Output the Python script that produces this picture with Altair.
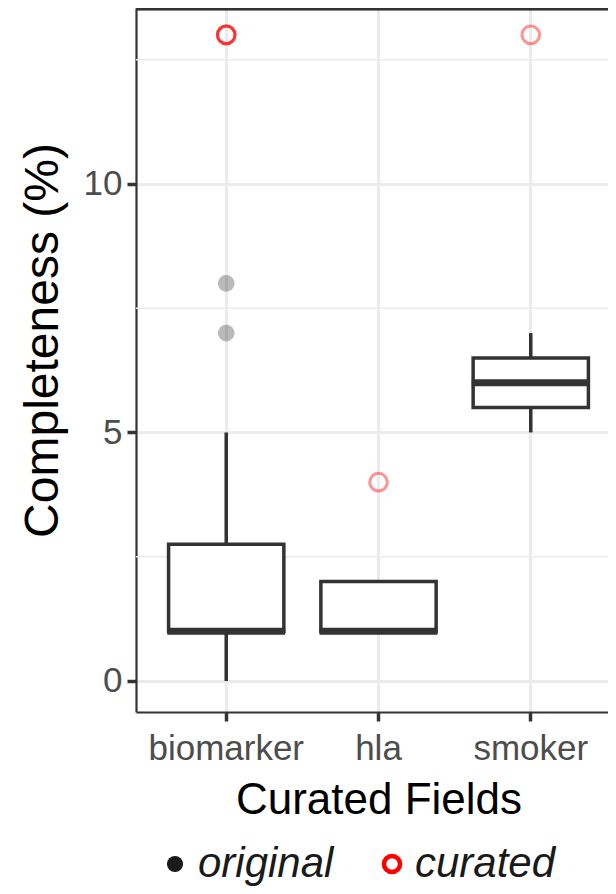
import altair as alt
import pandas as pd

# ---- data ----
categories = ["biomarker", "hla", "smoker"]
whisker_low = [0, 1, 5]
q1 = [1, 1, 5.5]
median = [1, 1, 6]
q3 = [2.75, 2, 6.5]
whisker_high = [5, 2, 7]

original_field = ["biomarker", "biomarker"]
original_value = [7, 8]

curated_field = ["biomarker", "biomarker", "biomarker", "hla", "smoker"]
curated_value = [13, 13, 13, 4, 13]

major_ticks = [0, 5, 10]
minor_grid = [2.5, 7.5, 12.5]
y_domain = [-0.624, 13.54]

box_df = pd.DataFrame({
    "field": categories, "lo": whisker_low, "q1": q1,
    "median": median, "q3": q3, "hi": whisker_high,
})
orig_df = pd.DataFrame({"field": original_field, "value": original_value, "group": "original"})
cur_df = pd.DataFrame({"field": curated_field, "value": curated_value, "group": "curated"})
minor_df = pd.DataFrame({"v": minor_grid})

FONT = "Liberation Sans"
DARK = "#333333"
GRID = "#EBEBEB"
BORDER_W = 2.2

yscale = alt.Scale(domain=y_domain, nice=False, zero=False)
xscale = alt.Scale(type="band", domain=categories, paddingInner=0.243, paddingOuter=0.214)

x_enc = alt.X("field:N", scale=xscale, sort=categories,
              axis=alt.Axis(title="Curated Fields", labelAngle=0, bandPosition=0.5,
                            grid=True, gridColor=GRID, gridWidth=3,
                            domain=True, domainColor=DARK, domainWidth=BORDER_W,
                            tickColor=DARK, tickWidth=3.5, tickSize=9,
                            labelFont=FONT, labelFontSize=35, labelColor="#4D4D4D",
                            labelPadding=10,
                            titleFont=FONT, titleFontSize=44, titleFontWeight="normal",
                            titleColor="black", titlePadding=12))

y_axis = alt.Axis(title="Completeness (%)", values=major_ticks, grid=True,
                  gridColor=GRID, gridWidth=3,
                  domain=True, domainColor=DARK, domainWidth=BORDER_W,
                  tickColor=DARK, tickWidth=3.5, tickSize=9,
                  labelFont=FONT, labelFontSize=35, labelColor="#4D4D4D", labelPadding=5,
                  titleFont=FONT, titleFontSize=48, titleFontWeight="normal",
                  titleColor="black", titlePadding=16, titleY=332)

fill_scale = alt.Scale(domain=["original", "curated"], range=["#1A1A1A", "transparent"])
stroke_scale = alt.Scale(domain=["original", "curated"], range=["transparent", "red"])
legend = alt.Legend(title=None, orient="none", direction="horizontal",
                    legendX=18, legendY=835, padding=0,
                    labelFont=FONT, labelFontSize=42, labelFontStyle="italic",
                    labelColor="#1A1A1A", labelOffset=2, columnPadding=37,
                    symbolType="circle", symbolSize=260, symbolStrokeWidth=4.5,
                    symbolOpacity=1)

minor = alt.Chart(minor_df).mark_rule(color=GRID, strokeWidth=1.5).encode(
    y=alt.Y("v:Q", scale=yscale, axis=y_axis)
)

# top edge of the panel frame (theme_bw border), placed at the top of the y domain
top_border = alt.Chart(minor_df).mark_rule(color=DARK, strokeWidth=2 * BORDER_W).encode(
    y=alt.datum(y_domain[1])
)

base = alt.Chart(box_df)
whisk_lo = base.mark_rule(color=DARK, strokeWidth=3.5).encode(
    x=x_enc, y=alt.Y("lo:Q", scale=yscale), y2="q1:Q")
whisk_hi = base.mark_rule(color=DARK, strokeWidth=3.5).encode(
    x=x_enc, y=alt.Y("q3:Q", scale=yscale), y2="hi:Q")
box = base.mark_bar(fill="white", stroke=DARK, strokeWidth=3.5).encode(
    x=x_enc, y=alt.Y("q1:Q", scale=yscale), y2="q3:Q")
med = base.mark_tick(color=DARK, opacity=1, thickness=7, size=118,
                     orient="horizontal").encode(
    x=x_enc, y=alt.Y("median:Q", scale=yscale))

orig_pts = alt.Chart(orig_df).mark_point(shape="circle", filled=True, size=280,
                                         fillOpacity=0.3, strokeOpacity=0.3).encode(
    x=x_enc, y=alt.Y("value:Q", scale=yscale),
    fill=alt.Fill("group:N", scale=fill_scale, legend=legend),
    stroke=alt.Stroke("group:N", scale=stroke_scale, legend=legend),
)
cur_pts = alt.Chart(cur_df).mark_point(shape="circle", filled=True, size=310,
                                       strokeWidth=3, strokeOpacity=0.6).encode(
    x=x_enc, y=alt.Y("value:Q", scale=yscale),
    fill=alt.Fill("group:N", scale=fill_scale, legend=legend),
    stroke=alt.Stroke("group:N", scale=stroke_scale, legend=legend),
)

chart = alt.layer(minor, top_border, whisk_lo, whisk_hi, box, med, orig_pts, cur_pts).properties(
    width=485, height=704,
    background="white",
    autosize=alt.AutoSizeParams(type="none"),
    padding={"left": 128, "top": 0, "right": -13, "bottom": 174},
).configure_view(stroke="transparent")

chart.save("out.html", embed_options={"renderer": "svg", "actions": False})
